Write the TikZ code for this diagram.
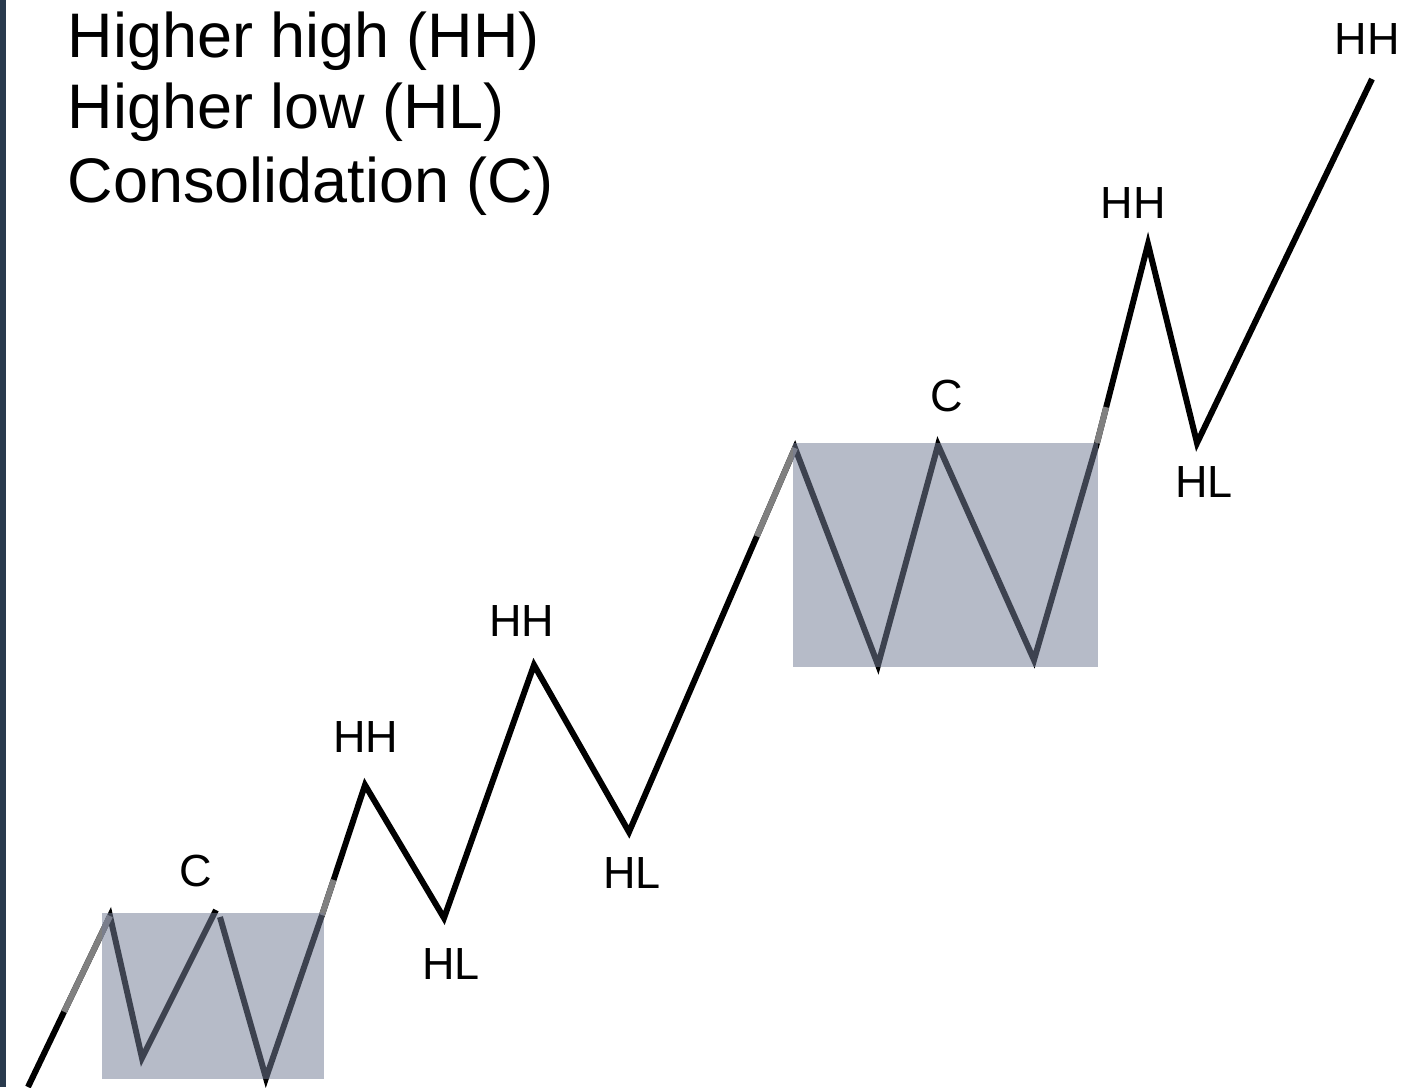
\documentclass[tikz,border=0pt]{standalone}
\usepackage{fontspec}
\setmainfont{Liberation Sans}
\usetikzlibrary{calc}
\definecolor{strip}{RGB}{41,58,77}
\definecolor{consfill}{RGB}{117,126,151}
\begin{document}
\begin{tikzpicture}[x=0.01cm,y=-0.01cm,
  zig/.style={line width=1.7pt},
  greyseg/.style={line width=1.7pt,draw=gray},
  cons/.style={fill=consfill,fill opacity=0.53},
  lbl/.style={inner sep=0pt,font=\fontsize{12.8}{15}\selectfont},
  hdr/.style={inner sep=0pt,anchor=base west,font=\fontsize{17.9}{21}\selectfont}]
  \useasboundingbox (0,0) rectangle (1415,1087);
  \fill[strip] (0,0) rectangle (6,1087);
  % turning points of the trend
  \foreach \x/\y [count=\i] in {28/1087,110/916,142/1058,216/910,220/917,266/1078,
      322/915,365/785,444/918,534/665,629/832,795/448,878/665,938/445,
      1034/660,1097/443,1148/244,1197/443,1372/79} {
    \coordinate (p\i) at (\x,\y);
  }
  \coordinate (s1) at ($(p1)!0.44!(p2)$);
  \coordinate (s2) at ($(p7)!0.27!(p8)$);
  \coordinate (s3) at ($(p11)!0.77!(p12)$);
  \coordinate (s4) at ($(p16)!0.18!(p17)$);

  \draw[zig] (p1) -- (p2) -- (p3) -- (p4);
  \draw[zig] (p5) -- (p6) -- (p7) -- (p8) -- (p9) -- (p10) -- (p11) -- (p12)
    -- (p13) -- (p14) -- (p15) -- (p16) -- (p17) -- (p18) -- (p19);
  \draw[greyseg] (s1) -- (p2);
  \draw[greyseg] (p7) -- (s2);
  \draw[greyseg] (s3) -- (p12);
  \draw[greyseg] (p16) -- (s4);

  % consolidation zones
  \fill[cons] (102,913) rectangle (324,1079);
  \fill[cons] (793,443) rectangle (1098,667);

  \node[lbl] (c1) at (196,871) {C};
  \node[lbl] (c2) at (947,396) {C};
  \node[lbl] (hh1) at (366,737) {HH};
  \node[lbl] (hl1) at (451,964) {HL};
  \node[lbl] (hh2) at (522,621) {HH};
  \node[lbl] (hl2) at (632,873) {HL};
  \node[lbl] (hh3) at (1133,203) {HH};
  \node[lbl] (hl3) at (1204,482) {HL};
  \node[lbl] (hh4) at (1367,39) {HH};

  \node[hdr] (t1) at (67,57) {Higher high (HH)};
  \node[hdr] (t2) at (67,128) {Higher low (HL)};
  \node[hdr] (t3) at (67,202) {Consolidation (C)};
\end{tikzpicture}
\end{document}
